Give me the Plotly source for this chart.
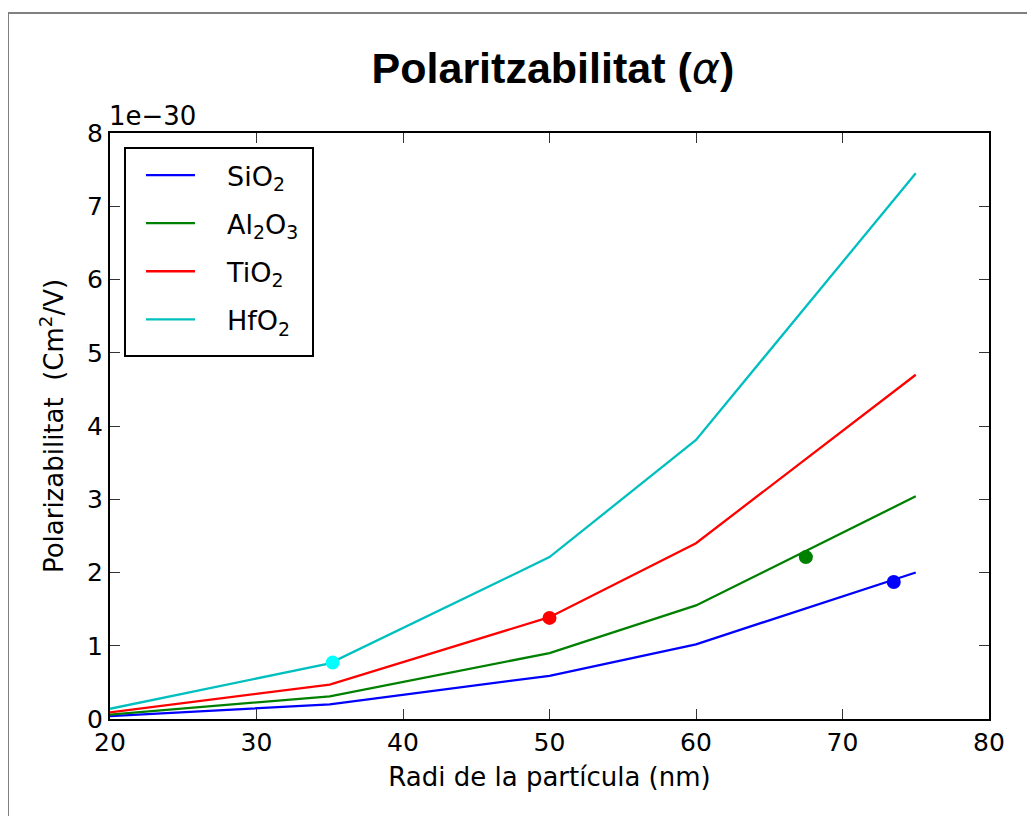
import plotly.graph_objects as go

radius = [20, 35, 50, 60, 75]
sio2 = [0.04e-30, 0.20e-30, 0.59e-30, 1.02e-30, 2.00e-30]
al2o3 = [0.06e-30, 0.31e-30, 0.90e-30, 1.55e-30, 3.04e-30]
tio2 = [0.09e-30, 0.47e-30, 1.39e-30, 2.40e-30, 4.70e-30]
hfo2 = [0.14e-30, 0.76e-30, 2.21e-30, 3.81e-30, 7.45e-30]

names = ["SiO<sub>2</sub>", "Al<sub>2</sub>O<sub>3</sub>", "TiO<sub>2</sub>", "HfO<sub>2</sub>"]
series = [sio2, al2o3, tio2, hfo2]
line_colors = ["#0000ff", "#008000", "#ff0000", "#00bfbf"]

# highlighted points
pt_x = [73.5, 67.5, 50.0, 35.2]
pt_y = [1.87e-30, 2.21e-30, 1.38e-30, 0.77e-30]
pt_colors = ["#0000ff", "#008000", "#ff0000", "#00ffff"]

x_ticks = [20, 30, 40, 50, 60, 70, 80]
y_ticks = [0, 1, 2, 3, 4, 5, 6, 7, 8]
y_scale = 1e-30

PAD = "\u2002\u2002"  # gap between legend line sample and text

fig = go.Figure()
for i, (nm, ys, c) in enumerate(zip(names, series, line_colors)):
    fig.add_trace(go.Scatter(x=radius, y=ys, mode="lines", name=PAD + nm,
                             line=dict(color=c, width=2.3),
                             legendgroup=f"g{i}"))
for xx, yy, c in zip(pt_x, pt_y, pt_colors):
    fig.add_trace(go.Scatter(x=[xx], y=[yy], mode="markers", showlegend=False,
                             marker=dict(color=c, size=14, line=dict(width=0))))

OFF = 8  # page body margin
W, H = 1035 - OFF, 816 - OFF
L, T = 110 - OFF, 133 - OFF
R = W - (989 - OFF)
B = H - (719 - OFF)
pw, ph = W - L - R, H - T - B

def px_x(p):
    return (p - OFF - L) / pw

def px_y(p):
    return 1 - (p - OFF - T) / ph

fig.update_layout(
    width=W, height=H,
    margin=dict(l=L, r=R, t=T, b=B),
    paper_bgcolor="white", plot_bgcolor="white",
    font=dict(family="DejaVu Sans", color="black", size=22),
    title=dict(text="<b>Polaritzabilitat (</b><span style='font-family:DejaVu Sans'><i>α</i></span><b>)</b>",
               x=(553 - OFF) / W, xanchor="center",
               y=1 - (68 - OFF) / H, yanchor="middle",
               font=dict(family="Liberation Sans", size=43, color="black")),
    showlegend=True,
    legend=dict(x=px_x(141), y=px_y(151), xanchor="left", yanchor="top",
                bgcolor="rgba(0,0,0,0)", borderwidth=0,
                font=dict(family="DejaVu Sans", size=27, color="black"),
                tracegroupgap=10, itemwidth=49),
    xaxis=dict(range=[20, 80], tickvals=x_ticks, ticktext=[str(v) for v in x_ticks],
               ticks="inside", ticklen=10, tickwidth=1, tickcolor="#333",
               showline=True, linecolor="black", linewidth=2, mirror="allticks",
               showgrid=False, zeroline=False,
               tickfont=dict(size=25, family="DejaVu Sans"),
               title=dict(text="Radi de la partícula (nm)", standoff=12,
                          font=dict(size=26, family="DejaVu Sans"))),
    yaxis=dict(range=[0, 8 * y_scale], tickvals=[v * y_scale for v in y_ticks],
               ticktext=[str(v) for v in y_ticks],
               ticks="inside", ticklen=10, tickwidth=1, tickcolor="#333",
               showline=True, linecolor="black", linewidth=2, mirror="allticks",
               showgrid=False, zeroline=False,
               tickfont=dict(size=25, family="DejaVu Sans"),
               title=dict(text="Polarizabilitat  (Cm<sup>2</sup>/V)", standoff=16,
                          font=dict(size=26, family="DejaVu Sans"))),
    shapes=[dict(type="rect", xref="paper", yref="paper",
                 x0=px_x(8), x1=px_x(1050), y0=px_y(13), y1=px_y(840),
                 line=dict(color="#808080", width=2), fillcolor="rgba(0,0,0,0)",
                 layer="below"),
            dict(type="rect", xref="paper", yref="paper",
                 x0=px_x(125), x1=px_x(313), y0=px_y(148), y1=px_y(356),
                 line=dict(color="black", width=2), fillcolor="white",
                 layer="above")],
    annotations=[dict(text="1e−30", xref="paper", yref="paper", x=px_x(107), y=1,
                      xanchor="left", yanchor="bottom", showarrow=False, yshift=0,
                      font=dict(size=26, family="DejaVu Sans", color="black"))],
)

fig.write_html("out.html")
